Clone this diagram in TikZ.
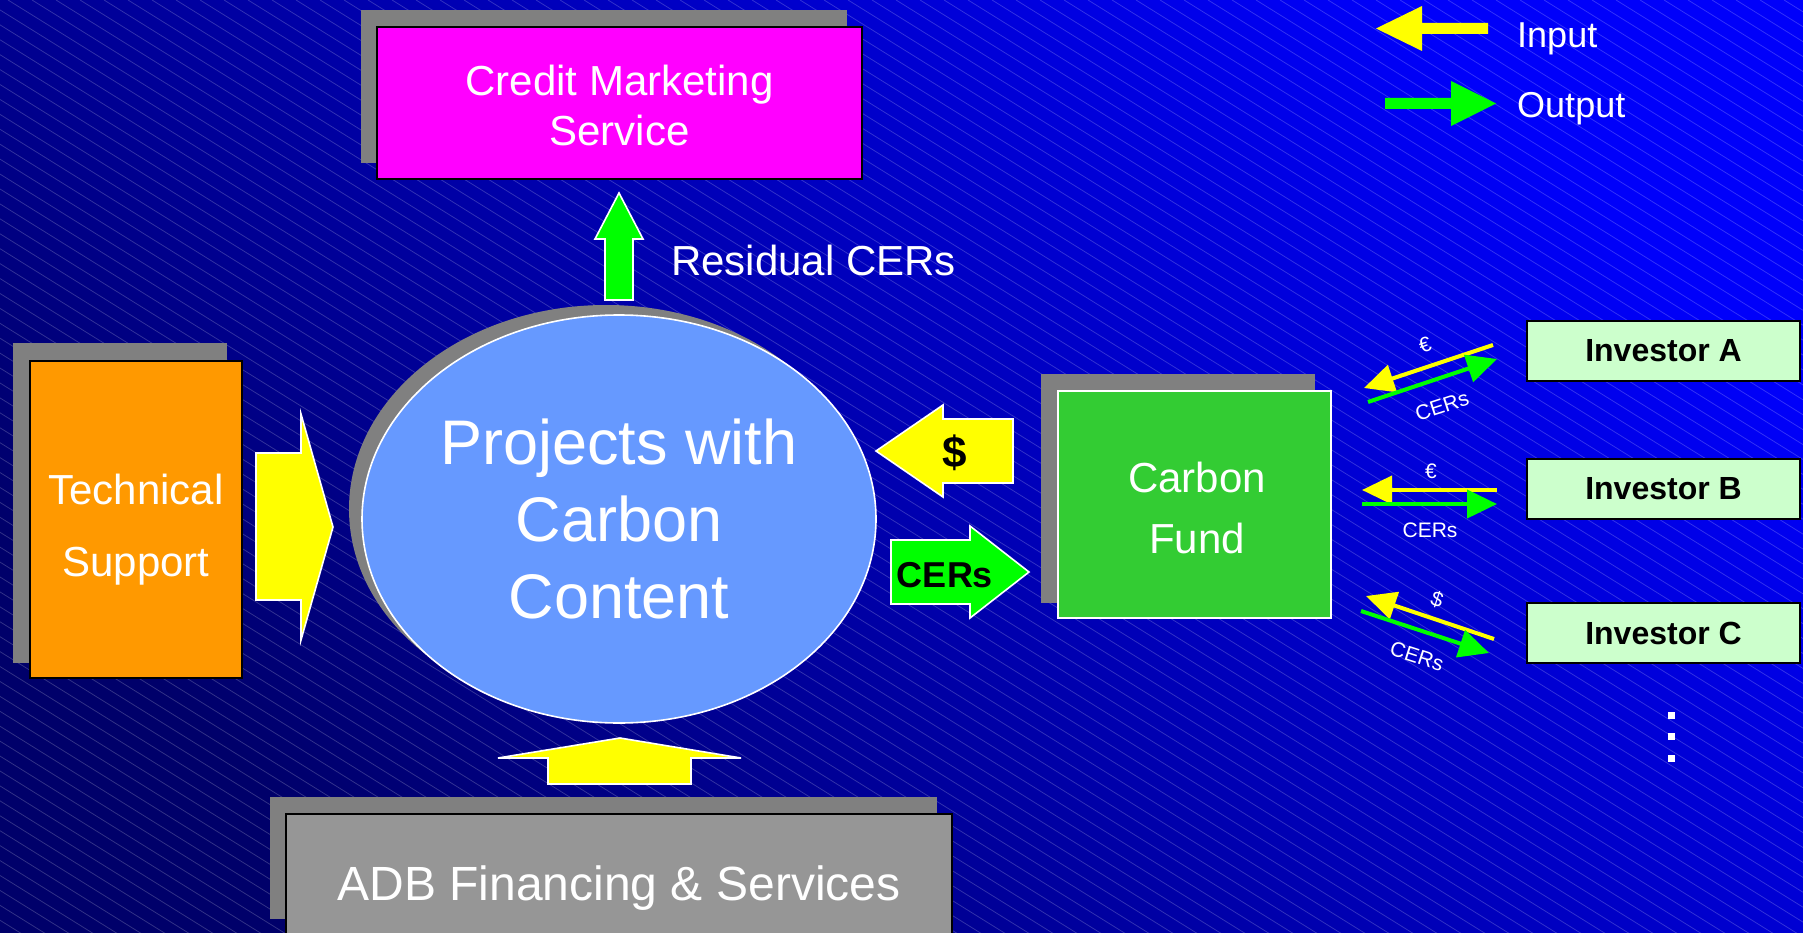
\documentclass[tikz,border=0pt]{standalone}
\usepackage{fontspec}
\setmainfont{Liberation Sans}
\usetikzlibrary{arrows.meta,shapes.geometric}
\definecolor{bgdark}{HTML}{00006A}
\definecolor{bgbright}{HTML}{0000FA}
\definecolor{shadowgray}{HTML}{808080}
\definecolor{credmag}{HTML}{FF00FF}
\definecolor{techorange}{HTML}{FF9900}
\definecolor{projblue}{HTML}{6699FF}
\definecolor{fundgreen}{HTML}{33CC33}
\definecolor{adbgray}{HTML}{969696}
\definecolor{invgreen}{HTML}{CCFFCC}
\definecolor{arrowyellow}{HTML}{FFFF00}
\definecolor{arrowgreen}{HTML}{00FF00}
\tikzset{
  bgline/.style={white, opacity=0.2, line width=0.75pt},
  shadowbox/.style={fill=shadowgray},
  mainbox/.style={rectangle, draw=black, line width=2pt, inner sep=0pt},
  boxtext/.style={text=white, align=center, inner sep=0pt},
  invbox/.style={rectangle, draw=black, line width=2pt, fill=invgreen, inner sep=0pt,
    minimum width=273pt, minimum height=60pt, font=\fontsize{32}{32}\selectfont\bfseries},
  blockyellow/.style={fill=arrowyellow, draw=white, line width=1.6pt, line join=miter},
  blockgreen/.style={fill=arrowgreen, draw=white, line width=1.6pt, line join=miter},
  yin/.style={draw=arrowyellow, line width=4pt, -{Triangle[length=30pt,width=28pt]}},
  gout/.style={draw=arrowgreen, line width=4pt, -{Triangle[length=30pt,width=28pt]}},
  smalllab/.style={text=white, inner sep=0pt, font=\fontsize{21}{21}\selectfont},
  legtext/.style={text=white, inner sep=0pt, anchor=base west, font=\fontsize{36}{36}\selectfont},
}
\begin{document}
\begin{tikzpicture}[x=1pt,y=-1pt]
\useasboundingbox (0,0) rectangle (1803,933);
\clip (0,0) rectangle (1803,933);
% background
\shade[bottom color=bgdark, top color=bgbright, shading angle=-45] (0,0) rectangle (1803,933);
\foreach \x in {-1600,-1576,...,1800} \draw[bgline] (\x,0) -- ++(1560,970);

% Credit Marketing Service
\fill[shadowbox] (361,10) rectangle (847,163);
\node[mainbox, fill=credmag, minimum width=485pt, minimum height=152pt] (credit) at (619.5,103) {};
\node[boxtext, font=\fontsize{42}{50}\selectfont] (credittext) at (619.5,105) {Credit Marketing\\Service};

% Residual CERs arrow
\draw[blockgreen] (605,300) -- (605,239) -- (595,239) -- (619,193) -- (643,239) -- (633,239) -- (633,300) -- cycle;
\node[text=white, inner sep=0pt, anchor=base west, font=\fontsize{42}{42}\selectfont] (residual) at (671,276) {Residual CERs};

% Technical Support
\fill[shadowbox] (13,343) rectangle (227,663);
\node[mainbox, fill=techorange, minimum width=212pt, minimum height=317pt] (tech) at (136,519.5) {};
\node[boxtext, font=\fontsize{42}{72}\selectfont] (techtext) at (136,530) {Technical\\Support};
\draw[blockyellow] (256,453) -- (301,453) -- (301,414) -- (333,527) -- (301,640) -- (301,600) -- (256,600) -- cycle;

% Projects ellipse
\fill[shadowgray] (606,509) ellipse [x radius=257pt, y radius=204pt];
\node[ellipse, draw=white, line width=1.6pt, fill=projblue, minimum width=514pt, minimum height=408pt,
  inner sep=0pt] (proj) at (619,519) {};
\node[boxtext, font=\fontsize{63}{77}\selectfont] (projtext) at (619,519) {Projects with\\Carbon\\Content};

% $ and CERs arrows
\draw[blockyellow] (1013,419) -- (943,419) -- (943,405) -- (876,451) -- (943,497) -- (943,483) -- (1013,483) -- cycle;
\node[inner sep=0pt, font=\fontsize{44}{44}\selectfont\bfseries] (dollar) at (955,453) {\$};
\draw[blockgreen] (891,540) -- (970,540) -- (970,526) -- (1029,572) -- (970,618) -- (970,604) -- (891,604) -- cycle;
\node[inner sep=0pt, anchor=base, font=\fontsize{36}{36}\selectfont\bfseries] (cers) at (945,587) {CERs};

% Carbon Fund
\fill[shadowbox] (1041,374) rectangle (1315,603);
\node[mainbox, draw=white, line width=1.6pt, fill=fundgreen, minimum width=273pt, minimum height=227pt] (fund) at (1194.5,504.5) {};
\node[boxtext, font=\fontsize{42}{61}\selectfont] (fundtext) at (1197,508) {Carbon\\Fund};

% ADB Financing
\draw[blockyellow] (548,784) -- (548,758) -- (498,758) -- (620,738) -- (741,758) -- (691,758) -- (691,784) -- cycle;
\fill[shadowbox] (270,797) rectangle (937,919);
\node[mainbox, fill=adbgray, minimum width=666pt, minimum height=136pt] (adb) at (619,882) {};
\node[boxtext, anchor=base, font=\fontsize{48}{48}\selectfont] (adbtext) at (619,900) {ADB Financing \& Services};

% Investors
\node[invbox] (invA) at (1663.5,351) {Investor A};
\node[invbox] (invB) at (1663.5,489) {Investor B};
\node[invbox] (invC) at (1663.5,633) {Investor C};

\draw[yin] (1493,345) -- (1364,388);
\draw[gout] (1368,402) -- (1497,359);
\node[smalllab, rotate=18] (eurA) at (1425,345) {€};
\node[smalllab, rotate=18] (cerA) at (1442,406) {CERs};

\draw[yin] (1497,490) -- (1362,490);
\draw[gout] (1362,504) -- (1497,504);
\node[smalllab] (eurB) at (1431,471) {€};
\node[smalllab] (cerB) at (1430,530) {CERs};

\draw[yin] (1494,639) -- (1366,596);
\draw[gout] (1361,611) -- (1489,653);
\node[smalllab, rotate=-18] (usdC) at (1437,600) {\$};
\node[smalllab, rotate=-18] (cerC) at (1417,656) {CERs};

% dots
\foreach \yy in {715,736,758}
  \fill[white] (1667.5,\yy-3.5) rectangle (1674.5,\yy+3.5);

% Legend
\fill[arrowyellow] (1488,23) -- (1422,23) -- (1422,6) -- (1376,28.5) -- (1422,51) -- (1422,34) -- (1488,34) -- cycle;
\node[legtext] (input) at (1517,48) {Input};
\fill[arrowgreen] (1385,98) -- (1451,98) -- (1451,81) -- (1496,103.5) -- (1451,126) -- (1451,109) -- (1385,109) -- cycle;
\node[legtext] (output) at (1517,118) {Output};
\end{tikzpicture}
\end{document}
